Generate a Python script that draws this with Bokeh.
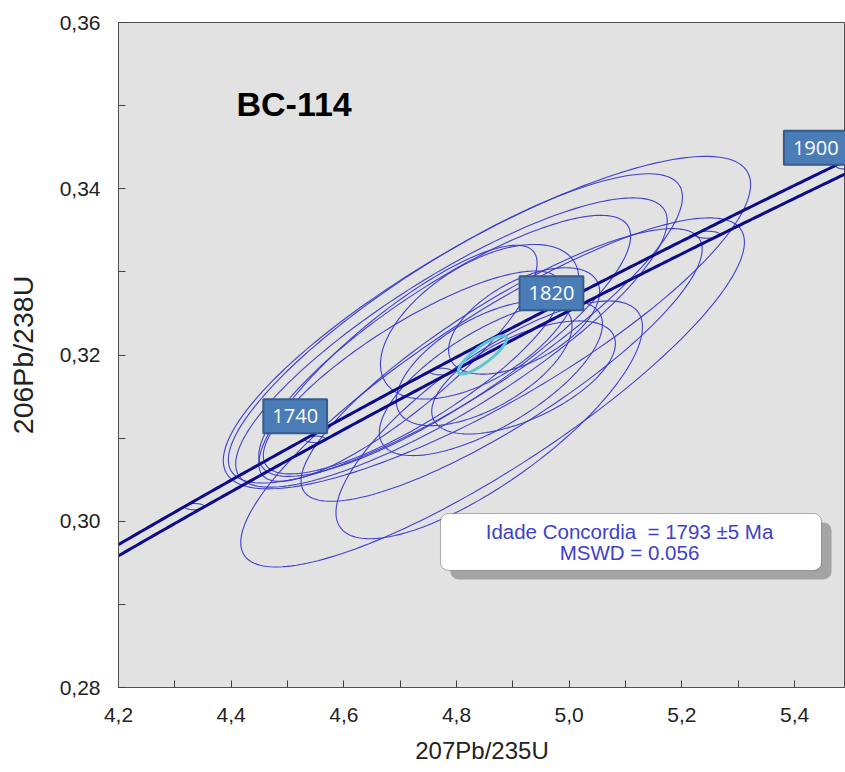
import numpy as np
from bokeh.plotting import figure
from bokeh.models import (FixedTicker, CustomJSTickFormatter, BoxAnnotation, Label,
                          ColumnDataSource, Range1d)
from bokeh.embed import file_html
from bokeh.resources import INLINE
from bokeh.core.properties import value

# ---------------- data ----------------
# individual analyses: 207Pb/235U, 206Pb/238U, 2-sigma errors, error correlation
r207_235 = [4.854, 4.798, 4.791, 4.779, 4.864, 4.858, 4.880, 4.841, 4.920, 4.919,
            4.696, 4.849, 4.861, 4.722]
r206_238 = [0.3239, 0.3232, 0.3215, 0.3211, 0.3155, 0.3122, 0.3188, 0.3240, 0.3241,
            0.3173, 0.3190, 0.3190, 0.3172, 0.3179]
err207 = [0.468, 0.403, 0.383, 0.330, 0.447, 0.272, 0.356, 0.176, 0.134, 0.163,
          0.247, 0.156, 0.198, 0.265]
err206 = [0.0200, 0.0186, 0.0174, 0.0157, 0.0210, 0.0143, 0.0164, 0.0093, 0.0064,
          0.0068, 0.0142, 0.0075, 0.0093, 0.0122]
rho = [0.83, 0.85, 0.84, 0.84, 0.86, 0.78, 0.85, 0.55, 0.55, 0.60,
       0.85, 0.60, 0.70, 0.82]

# concordia age ellipse
conc_x = [4.846]
conc_y = [0.3200]
conc_ex = [0.043]
conc_ey = [0.0023]
conc_rho = [0.85]

# decay constants (per year) and relative 2-sigma errors
lam238 = 1.55125e-10
lam235 = 9.8485e-10
lam235_err = 0.002
lam238_err = 0.0011

tick_ages = [1700, 1740, 1780, 1820, 1860, 1900]   # Ma, ellipses on the concordia
label_ages = [1740, 1820, 1900]                     # Ma, labelled boxes

x_major = [4.2, 4.4, 4.6, 4.8, 5.0, 5.2, 5.4]
x_minor = [4.3, 4.5, 4.7, 4.9, 5.1, 5.3]
y_major = [0.28, 0.30, 0.32, 0.34, 0.36]
y_minor = [0.29, 0.31, 0.33, 0.35]

sample_name = "BC-114"
result_line1 = "Idade Concordia \u00a0= 1793 \u00b15 Ma"
result_line2 = "MSWD = 0.056"


def ellipse_pts(cx, cy, ex, ey, r, n=200):
    th = np.linspace(0, 2 * np.pi, n)
    xs = cx + ex * np.cos(th)
    ys = cy + ey * (r * np.cos(th) + np.sqrt(1 - r * r) * np.sin(th))
    return xs.tolist(), ys.tolist()


# ---------------- figure ----------------
p = figure(width=845, height=772, output_backend="svg", toolbar_location=None,
           x_range=Range1d(4.2, 5.4904), y_range=Range1d(0.28, 0.36),
           min_border_left=118, min_border_right=0, min_border_top=22,
           min_border_bottom=85)
p.background_fill_color = "#e2e2e2"
p.border_fill_color = "white"
p.outline_line_color = "#505050"
p.outline_line_width = 1
p.xgrid.visible = False
p.ygrid.visible = False

# analyses ellipses
exs, eys = [], []
for a, b, c, d, r in zip(r207_235, r206_238, err207, err206, rho):
    xs, ys = ellipse_pts(a, b, c, d, r)
    exs.append(xs)
    eys.append(ys)
p.multi_line(xs=exs, ys=eys, line_color="#3838cc", line_width=1.1, line_alpha=0.95)

# concordia band (decay-constant errors)
t = np.linspace(1550, 1980, 400) * 1e6
yc = np.exp(lam238 * t) - 1
x_lo = np.exp(lam235 * (1 - lam235_err) * t) - 1
x_hi = np.exp(lam235 * (1 + lam235_err) * t) - 1
p.line(x_lo, yc, line_color="#0b0b8c", line_width=3)
p.line(x_hi, yc, line_color="#0b0b8c", line_width=3)

# age-tick ellipses on the concordia
txs, tys = [], []
for age in tick_ages:
    tt = age * 1e6
    xa = np.exp(lam235 * tt) - 1
    ya = np.exp(lam238 * tt) - 1
    ex = (1 + xa) * np.log(1 + xa) * lam235_err
    ey = (1 + ya) * np.log(1 + ya) * lam238_err
    xs, ys = ellipse_pts(xa, ya, ex, ey, 0.0)
    txs.append(xs)
    tys.append(ys)
p.multi_line(xs=txs, ys=tys, line_color="#0b0b8c", line_width=1)

# concordia age ellipse
cxs, cys = ellipse_pts(conc_x[0], conc_y[0], conc_ex[0], conc_ey[0], conc_rho[0])
p.line(cxs, cys, line_color="#58c6d6", line_width=3)

# age labels (screen offsets from the concordia point)
label_dx = [-20, -20, -33]
label_dy = [-23, -10, -18]
lab_src = ColumnDataSource(dict(
    x=[float(np.exp(lam235 * a * 1e6) - 1) for a in label_ages],
    y=[float(np.exp(lam238 * a * 1e6) - 1) for a in label_ages],
    txt=[str(a) for a in label_ages],
    dx=label_dx, dy=label_dy))
p.text(x="x", y="y", text="txt", source=lab_src, x_offset="dx", y_offset="dy",
       text_align="center", text_baseline="middle", text_color="white",
       text_font=value("Open Sans"), text_font_size="20px",
       background_fill_color="#4a7cb8", border_line_color="#365c8a",
       border_line_width=2, padding=(9, 10))

# result box with shadow
shadow = BoxAnnotation(left=4.7715 + 0.0178, right=5.4478 + 0.0178,
                       bottom=0.29408 - 0.00108, top=0.30093 - 0.00108,
                       fill_color="#a4a4a4", fill_alpha=1, line_color=None,
                       border_radius=8)
box = BoxAnnotation(left=4.7715, right=5.4478, bottom=0.29408, top=0.30093,
                    fill_color="white", fill_alpha=1, line_color="black",
                    line_width=1, border_radius=8)
p.add_layout(shadow)
p.add_layout(box)
p.add_layout(Label(x=5.107, y=0.29877, text=result_line1, text_align="center",
                   text_baseline="middle", text_color="#4040cc",
                   text_font="Liberation Sans", text_font_size="20.5px"))
p.add_layout(Label(x=5.107, y=0.29624, text=result_line2, text_align="center",
                   text_baseline="middle", text_color="#4040cc",
                   text_font="Liberation Sans", text_font_size="20.5px"))

# sample name
p.add_layout(Label(x=4.4094, y=0.3502, text=sample_name, text_align="left",
                   text_baseline="middle", text_color="black",
                   text_font="Liberation Sans", text_font_style="bold",
                   text_font_size="34px"))

# ---------------- axes ----------------
xa_ = p.xaxis[0]
xa_.ticker = FixedTicker(ticks=x_major, minor_ticks=x_minor)
xa_.formatter = CustomJSTickFormatter(code="return tick.toFixed(1).replace('.', ',');")
xa_.axis_label = "207Pb/235U"
xa_.axis_label_text_font = "Liberation Sans"
xa_.axis_label_text_font_size = "24px"
xa_.axis_label_text_font_style = "normal"
xa_.axis_label_text_color = "#222222"
xa_.axis_label_standoff = 12
xa_.major_label_text_font = "Liberation Sans"
xa_.major_label_text_font_size = "21px"
xa_.major_label_text_color = "#222222"
xa_.major_label_standoff = 20

ya_ = p.yaxis[0]
ya_.ticker = FixedTicker(ticks=y_major, minor_ticks=y_minor)
ya_.formatter = CustomJSTickFormatter(code="return tick.toFixed(2).replace('.', ',');")
ya_.axis_label = "206Pb/238U"
ya_.axis_label_text_font = "Liberation Sans"
ya_.axis_label_text_font_size = "28.5px"
ya_.axis_label_text_font_style = "normal"
ya_.axis_label_text_color = "#222222"
ya_.axis_label_standoff = 18
ya_.major_label_text_font = "Liberation Sans"
ya_.major_label_text_font_size = "21px"
ya_.major_label_text_color = "#222222"
ya_.major_label_standoff = 18

for ax in (xa_, ya_):
    ax.axis_line_color = "#505050"
    ax.major_tick_in = 7
    ax.major_tick_out = 0
    ax.minor_tick_in = 7
    ax.minor_tick_out = 0
    ax.major_tick_line_color = "#404040"
    ax.minor_tick_line_color = "#404040"

open("out.html", "w").write(file_html(p, INLINE))
